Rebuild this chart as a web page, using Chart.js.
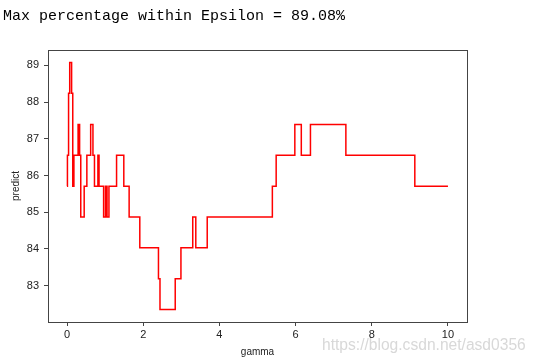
<!DOCTYPE html>
<html>
<head>
<meta charset="utf-8">
<script src="https://cdn.jsdelivr.net/npm/chart.js@4"></script>
<style>
  html, body { margin: 0; padding: 0; background: #fff; }
  #wrap { position: relative; width: 537px; height: 363px; overflow: hidden; }
  #title { position: absolute; left: 3px; top: 8px; font-family: "Liberation Mono", monospace; font-size: 15px; color: #000; white-space: pre; }
  #mark { position: absolute; left: 322px; top: 336px; font-family: "Liberation Sans", Arial, sans-serif; font-size: 15.6px; color: rgba(200,200,200,0.7); white-space: pre; }
  canvas { position: absolute; left: 0; top: 0; }
</style>
</head>
<body>
<div id="wrap">
  <canvas id="c" width="537" height="363"></canvas>
  <div id="title">Max percentage within Epsilon = 89.08%</div>
  <div id="mark">https://blog.csdn.net/asd0356</div>
</div>
<script>
// gamma values where the prediction level changes, and the level from there on
const gammas = [0, 0.01, 0.04, 0.07, 0.12, 0.15, 0.18, 0.29, 0.33, 0.36, 0.45, 0.52, 0.62, 0.68, 0.72, 0.81, 0.84, 0.96, 1.01, 1.05, 1.10, 1.30, 1.49, 1.63, 1.91, 2.40, 2.44, 2.84, 2.99, 3.30, 3.38, 3.68, 5.39, 5.49, 5.98, 6.15, 6.39, 7.32, 9.13, 10.0];
const predict = [85.71, 86.55, 88.24, 89.08, 88.24, 85.71, 86.55, 87.39, 86.55, 84.87, 85.71, 86.55, 87.39, 86.55, 85.71, 86.55, 85.71, 84.87, 85.71, 84.87, 85.71, 86.55, 85.71, 84.87, 84.03, 83.19, 82.35, 83.19, 84.03, 84.87, 84.03, 84.87, 85.71, 86.55, 87.39, 86.55, 87.39, 86.55, 85.71, 85.71];
const xTicks = [0, 2, 4, 6, 8, 10];
const yTicks = [83, 84, 85, 86, 87, 88, 89];
const xLabel = 'gamma';
const yLabel = 'predict';

const points = gammas.map((g, i) => ({ x: g, y: predict[i] }));
const axisColor = '#444';
const tickFont = { family: '"Liberation Sans", Arial, sans-serif', size: 11 };

const frame = {
  id: 'frame',
  afterDraw(chart) {
    const a = chart.chartArea, ctx = chart.ctx;
    ctx.save();
    ctx.strokeStyle = axisColor;
    ctx.lineWidth = 1;
    ctx.strokeRect(Math.round(a.left) + 0.5, Math.round(a.top) + 0.5, Math.round(a.right - a.left), Math.round(a.bottom - a.top));
    ctx.restore();
  }
};

new Chart(document.getElementById('c'), {
  type: 'line',
  data: {
    datasets: [{
      data: points,
      borderColor: '#ff0000',
      borderWidth: 1.5,
      pointRadius: 0,
      stepped: 'before',
      fill: false,
      tension: 0
    }]
  },
  options: {
    responsive: false,
    animation: false,
    layout: { padding: { left: 0, top: 50, right: 70, bottom: 0 } },
    plugins: { legend: { display: false }, tooltip: { enabled: false }, title: { display: false } },
    scales: {
      x: {
        type: 'linear',
        min: -0.5, max: 10.5,
        afterFit: s => { s.height = 41; },
        afterBuildTicks: s => { s.ticks = xTicks.map(v => ({ value: v })); },
        grid: { display: true, drawOnChartArea: false, drawTicks: true, tickLength: 4, color: axisColor },
        border: { display: true, color: axisColor, width: 1 },
        ticks: { color: '#222', font: tickFont, padding: 2, maxRotation: 0, autoSkip: false },
        title: { display: true, text: xLabel, color: '#222', font: { family: '"Liberation Sans", Arial, sans-serif', size: 10 }, padding: { top: 0, bottom: 5 } }
      },
      y: {
        type: 'linear',
        min: 82.01, max: 89.42,
        afterFit: s => { s.width = 48; },
        afterBuildTicks: s => { s.ticks = yTicks.map(v => ({ value: v })); },
        grid: { display: true, drawOnChartArea: false, drawTicks: true, tickLength: 4, color: axisColor },
        border: { display: true, color: axisColor, width: 1 },
        ticks: { color: '#222', font: tickFont, padding: 5 },
        title: { display: true, text: yLabel, color: '#222', font: { family: '"Liberation Sans", Arial, sans-serif', size: 10 }, padding: { top: 10, bottom: 0 } }
      }
    }
  },
  plugins: [frame]
});
</script>
</body>
</html>
